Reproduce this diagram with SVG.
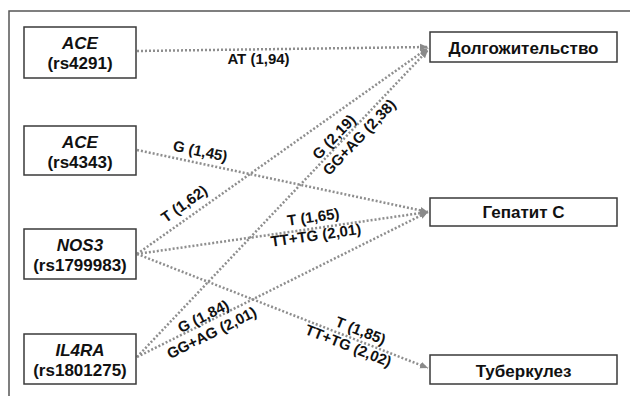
<svg xmlns="http://www.w3.org/2000/svg" width="630" height="396" viewBox="0 0 630 396">
<defs>
<style>
.box{fill:#fff;stroke:#3a3a3a;stroke-width:1.5}
.t{font-family:"Liberation Sans",Arial,sans-serif;font-weight:bold;font-size:17px;fill:#111;text-anchor:middle}
.i{font-style:italic}
.lbl{font-family:"Liberation Sans",Arial,sans-serif;font-weight:bold;font-size:15px;fill:#111;text-anchor:middle}
.c{fill:none;stroke:#8e8e8e;stroke-width:2.5;stroke-dasharray:2 2;marker-end:url(#ah)}
</style>
<marker id="ah" markerUnits="userSpaceOnUse" markerWidth="9" markerHeight="8" refX="8" refY="4" orient="auto">
<path d="M0,0.5 L8,4 L0,7.5 z" fill="#8a8a8a"/>
</marker>
</defs>
<rect width="630" height="396" fill="#fff"/>
<path d="M9,396 V11 H630" fill="none" stroke="#555" stroke-width="1.5"/>

<g id="connectors">
<path class="c" d="M137,51 L428,47"/>
<path class="c" d="M137,150 L428,212"/>
<path class="c" d="M137,254 L428,48"/>
<path class="c" d="M137,254 L428,212"/>
<path class="c" d="M137,254 L428,368"/>
<path class="c" d="M137,357 L428,50"/>
<path class="c" d="M137,357 L428,212"/>
<text class="lbl" x="258.5" y="63.5">AT (1,94)</text>
<text class="lbl" transform="translate(198,162) rotate(12)" y="-6">G (1,45)</text>
<text class="lbl" transform="translate(192,215) rotate(-35.3)" y="-8.5">T (1,62)</text>
<g transform="translate(314.5,226) rotate(-8.2)">
<text class="lbl" y="-4">T (1,65)</text>
<text class="lbl" y="14.5">TT+TG (2,01)</text>
</g>
<g transform="translate(354.5,338) rotate(21.4)">
<text class="lbl" x="3" y="-4">T (1,85)</text>
<text class="lbl" x="-3" y="14.5">TT+TG (2,02)</text>
</g>
<g transform="translate(346.5,137) rotate(-46.5)">
<text class="lbl" x="-8.6" y="-4">G (2,19)</text>
<text class="lbl" x="8.6" y="14.5">GG+AG (2,38)</text>
</g>
<g transform="translate(207.5,324.5) rotate(-26.5)">
<text class="lbl" y="-4">G (1,84)</text>
<text class="lbl" y="14.5">GG+AG (2,01)</text>
</g>
</g>

<g id="ace4291">
<rect class="box" x="24" y="27" width="112" height="51"/>
<text class="t i" x="80" y="48.5">ACE</text>
<text class="t" x="80" y="69">(rs4291)</text>
</g>
<g id="ace4343">
<rect class="box" x="24" y="126" width="112" height="49"/>
<text class="t i" x="80" y="147.5">ACE</text>
<text class="t" x="80" y="168">(rs4343)</text>
</g>
<g id="nos3">
<rect class="box" x="24" y="229" width="112" height="50"/>
<text class="t i" x="80" y="250.5">NOS3</text>
<text class="t" x="80" y="271">(rs1799983)</text>
</g>
<g id="il4ra">
<rect class="box" x="24" y="334" width="112" height="50"/>
<text class="t i" x="80" y="355.5">IL4RA</text>
<text class="t" x="80" y="376">(rs1801275)</text>
</g>
<g id="longevity">
<rect class="box" x="430" y="32" width="187" height="30"/>
<text class="t" x="523.5" y="53.5">Долгожительство</text>
</g>
<g id="hepatitis">
<rect class="box" x="430" y="198" width="187" height="28"/>
<text class="t" x="523.5" y="218">Гепатит С</text>
</g>
<g id="tuberculosis">
<rect class="box" x="430" y="355" width="187" height="29"/>
<text class="t" x="523.5" y="377">Туберкулез</text>
</g>
</svg>
